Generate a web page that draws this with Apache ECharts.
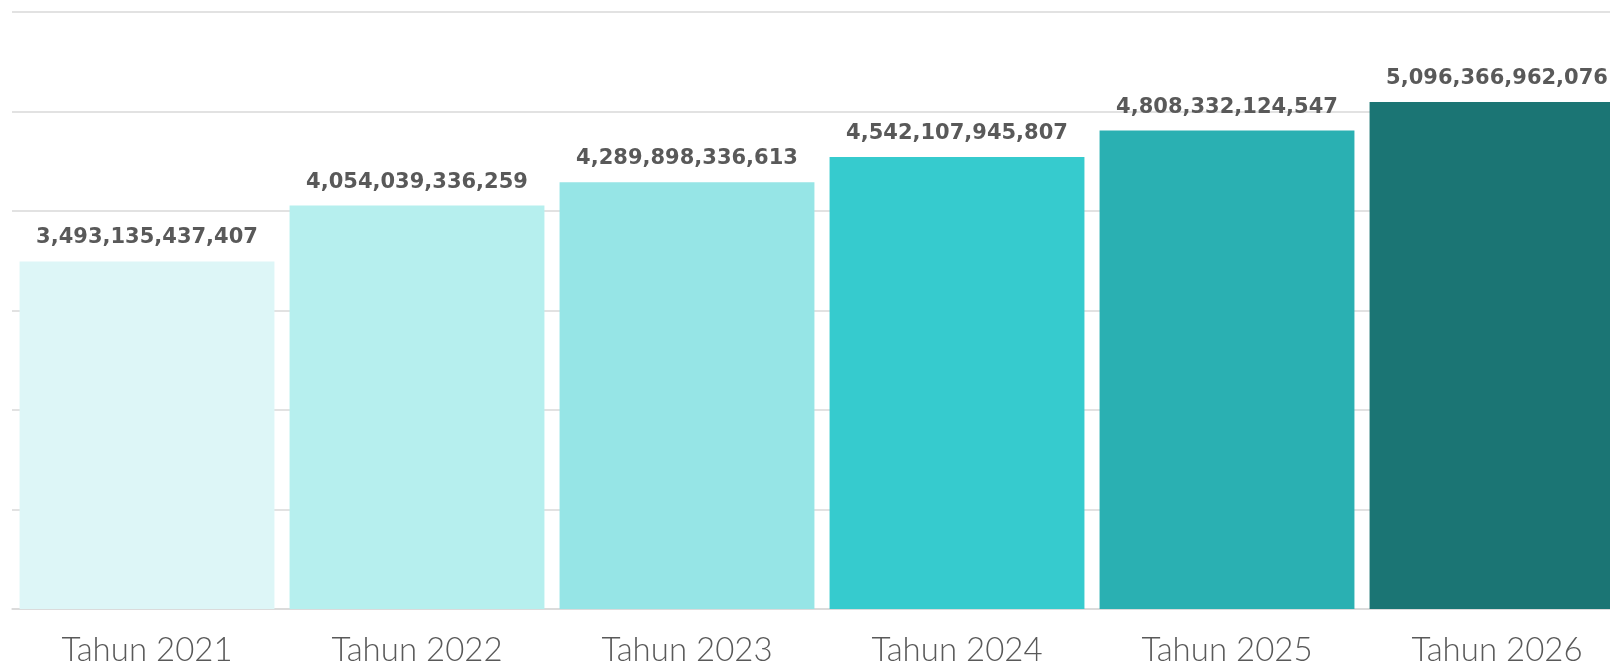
<!DOCTYPE html>
<html><head><meta charset="utf-8">
<script src="https://cdn.jsdelivr.net/npm/echarts@6/dist/echarts.min.js"></script>
<style>html,body{margin:0;padding:0;background:#fff;overflow:hidden}#c{width:1610px;height:665px}</style>
</head><body><div id="c"></div>
<script>
const categories = ['Tahun 2021','Tahun 2022','Tahun 2023','Tahun 2024','Tahun 2025','Tahun 2026'];
const values = [3493135437407, 4054039336259, 4289898336613, 4542107945807, 4808332124547, 5096366962076];
const barColors = ['#DDF6F7','#B6EFEE','#96E5E6','#36CBCE','#2AB0B2','#1B7574'];
const chart = echarts.init(document.getElementById('c'));
chart.setOption({
  animation:false,
  grid:{left:12,width:1620,top:12,bottom:56,containLabel:false,outerBoundsMode:'none'},
  xAxis:{type:'category',data:categories,
    axisLine:{lineStyle:{color:'#d9d9d9',width:1.5}},axisTick:{show:false},
    axisLabel:{color:'#595959',fontFamily:'Lato',fontWeight:300,fontSize:33,margin:25}},
  yAxis:{type:'value',min:0,max:6e12,interval:1e12,axisLabel:{show:false},axisLine:{show:false},axisTick:{show:false},
    splitLine:{lineStyle:{color:'#d9d9d9',width:1.5}}},
  series:[{type:'bar',barCategoryGap:'5.6%',
    data:values.map((v,i)=>({value:v,itemStyle:{color:barColors[i]}})),
    label:{show:true,position:'top',distance:13,color:'#595959',fontFamily:'DejaVu Sans',fontWeight:'bold',fontSize:21,
      formatter:p=>p.value.toLocaleString('en-US')}}]
});
</script></body></html>
